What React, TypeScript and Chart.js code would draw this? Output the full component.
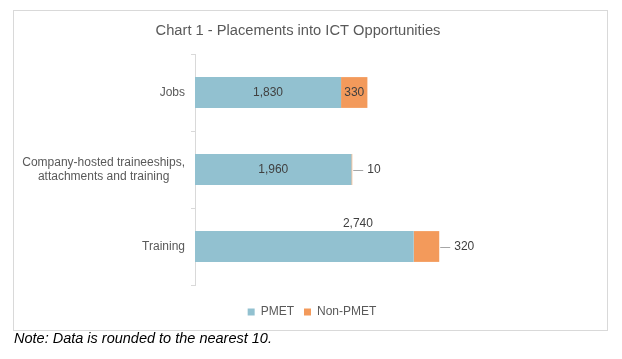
import React, { useEffect, useRef } from 'react';
import { Chart, registerables } from 'chart.js';

Chart.register(...registerables);

const categories: string[][] = [
  ['Jobs'],
  ['Company-hosted traineeships,', 'attachments and training'],
  ['Training'],
];
const pmetValues = [1830, 1960, 2740];
const nonPmetValues = [330, 10, 320];
const seriesNames = ['PMET', 'Non-PMET'];
const chartTitle = 'Chart 1 - Placements into ICT Opportunities';
const noteText = 'Note: Data is rounded to the nearest 10.';

const FONT = '"Liberation Sans", Arial, Helvetica, sans-serif';
const COLORS = ['#92C1D0', '#F39A5B'];
// label placement per dataset / category (as in the original)
const labelPlacement = [
  ['inside', 'inside', 'above'],
  ['inside', 'outside', 'outside'],
];

const titlePlugin = {
  id: 'customTitle',
  afterDraw(chart: any) {
    const ctx = chart.ctx;
    ctx.save();
    ctx.font = `14.7px ${FONT}`;
    ctx.fillStyle = '#595959';
    ctx.textAlign = 'center';
    ctx.textBaseline = 'middle';
    ctx.fillText(chartTitle, 298, 31);
    ctx.restore();
  },
};

const categoryLabelsPlugin = {
  id: 'categoryLabels',
  afterDraw(chart: any) {
    const ctx = chart.ctx;
    const yScale = chart.scales.y;
    const right = chart.chartArea.left - 10;
    ctx.save();
    ctx.font = `12px ${FONT}`;
    ctx.fillStyle = '#595959';
    ctx.textAlign = 'center';
    ctx.textBaseline = 'middle';
    categories.forEach((lines, i) => {
      const cy = yScale.getPixelForTick(i);
      const maxW = Math.max(...lines.map((l) => ctx.measureText(l).width));
      const cx = right - maxW / 2;
      const lh = 14;
      const startY = cy - ((lines.length - 1) * lh) / 2;
      lines.forEach((l, k) => ctx.fillText(l, cx, startY + k * lh));
    });
    ctx.restore();
  },
};

const barLabelsPlugin = {
  id: 'barLabels',
  afterDatasetsDraw(chart: any) {
    const ctx = chart.ctx;
    ctx.save();
    ctx.font = `12px ${FONT}`;
    chart.data.datasets.forEach((ds: any, di: number) => {
      const meta = chart.getDatasetMeta(di);
      meta.data.forEach((el: any, i: number) => {
        const v = ds.data[i] as number;
        const text = v.toLocaleString('en-US');
        const { x, y, base, height } = el.getProps(['x', 'y', 'base', 'height'], true);
        const mode = labelPlacement[di][i];
        ctx.fillStyle = '#404040';
        if (mode === 'inside') {
          ctx.textAlign = 'center';
          ctx.textBaseline = 'middle';
          ctx.fillText(text, (x + base) / 2, y);
        } else if (mode === 'above') {
          ctx.textAlign = 'center';
          ctx.textBaseline = 'bottom';
          ctx.fillText(text, base + (x - base) * 0.745, y - height / 2 - 1);
        } else {
          ctx.strokeStyle = '#A6A6A6';
          ctx.lineWidth = 1;
          ctx.beginPath();
          ctx.moveTo(x + 1, Math.round(y) + 0.5);
          ctx.lineTo(x + 11, Math.round(y) + 0.5);
          ctx.stroke();
          ctx.textAlign = 'left';
          ctx.textBaseline = 'middle';
          ctx.fillText(text, x + 15, y);
        }
      });
    });
    ctx.restore();
  },
};

export default function App() {
  const canvasRef = useRef<HTMLCanvasElement | null>(null);

  useEffect(() => {
    if (!canvasRef.current) return;
    const chart = new Chart(canvasRef.current, {
      type: 'bar',
      data: {
        labels: categories.map((c) => c.join(' ')),
        datasets: [
          {
            label: seriesNames[0],
            data: pmetValues,
            backgroundColor: COLORS[0],
            barPercentage: 0.4,
            categoryPercentage: 1,
          },
          {
            label: seriesNames[1],
            data: nonPmetValues,
            backgroundColor: COLORS[1],
            barPercentage: 0.4,
            categoryPercentage: 1,
          },
        ],
      },
      options: {
        indexAxis: 'y',
        animation: false,
        responsive: false,
        maintainAspectRatio: false,
        layout: { padding: { top: 54, left: 2, right: 0, bottom: 31 } },
        scales: {
          x: {
            stacked: true,
            min: 0,
            max: 5350,
            display: true,
            grid: { display: false },
            border: { display: false },
            ticks: { display: false },
            afterFit: (s: any) => {
              s.height = 11;
            },
          },
          y: {
            stacked: true,
            grid: {
              display: true,
              drawOnChartArea: false,
              drawTicks: true,
              tickLength: 4,
              color: '#D9D9D9',
              offset: true,
            },
            border: { display: true, color: '#D9D9D9' },
            ticks: { display: false },
            afterFit: (s: any) => {
              s.width = 193;
            },
          },
        },
        plugins: {
          title: { display: false },
          legend: {
            display: true,
            position: 'bottom',
            labels: {
              boxWidth: 7,
              boxHeight: 7,
              padding: 10,
              color: '#595959',
              font: { family: FONT, size: 12 },
            },
          },
          tooltip: { enabled: false },
        },
      },
      plugins: [titlePlugin, categoryLabelsPlugin, barLabelsPlugin],
    } as any);
    return () => chart.destroy();
  }, []);

  return (
    <div style={{ position: 'absolute', left: 0, top: 0, width: 622, height: 359, background: '#fff' }}>
      <div
        style={{
          position: 'absolute',
          left: 13,
          top: 10,
          width: 593,
          height: 319,
          border: '1px solid #D9D9D9',
        }}
      />
      <canvas
        ref={canvasRef}
        width={622}
        height={359}
        style={{ position: 'absolute', left: 0, top: 0, width: 622, height: 359 }}
      />
      <div
        style={{
          position: 'absolute',
          left: 14,
          top: 330,
          fontFamily: FONT,
          fontStyle: 'italic',
          fontSize: 14.5,
          lineHeight: '17px',
          color: '#000',
          whiteSpace: 'nowrap',
        }}
      >
        {noteText}
      </div>
    </div>
  );
}
